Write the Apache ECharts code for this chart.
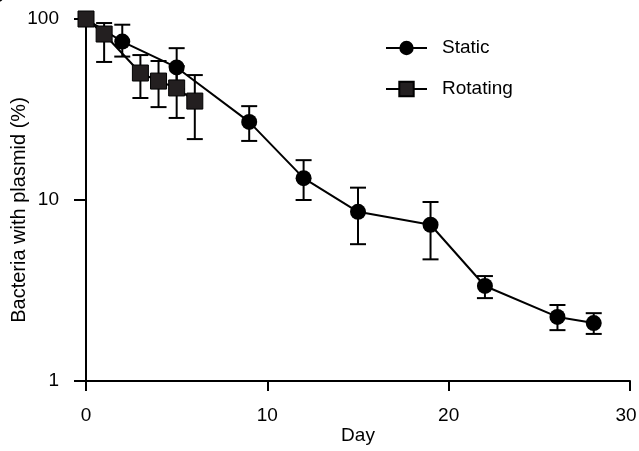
<!DOCTYPE html>
<html><head><meta charset="utf-8">
<script src="https://cdn.jsdelivr.net/npm/echarts@6/dist/echarts.min.js"></script>
<style>html,body{margin:0;padding:0;background:#fff}#c{width:639px;height:451px}</style>
</head><body><div id="c"></div>
<script>
const staticDays = [0, 2, 5, 9, 12, 15, 19, 22, 26, 28];
const staticMean = [100, 75, 54, 27, 13.2, 8.6, 7.3, 3.35, 2.26, 2.09];
const staticLow  = [100, 62, 41, 21.2, 10, 5.7, 4.7, 2.87, 1.91, 1.82];
const staticHigh = [100, 93, 69, 33, 16.6, 11.7, 9.75, 3.8, 2.63, 2.37];
const rotDays = [0, 1, 3, 4, 5, 6];
const rotMean = [100, 82.6, 50.3, 45.4, 41.6, 35.2];
const rotLow  = [100, 57.9, 36.6, 32.6, 28.4, 21.7];
const rotHigh = [100, 95, 63.2, 58.6, 55, 49];
const xTicks = [0, 10, 20, 30];
const yTicks = [1, 10, 100];

const chart = echarts.init(document.getElementById('c'));
const font = 'Liberation Sans, Arial, sans-serif';
function errSeries(days, low, high) {
  return {
    type: 'custom', z: 1, silent: true,
    data: days.map((d, i) => [d, low[i], high[i]]),
    renderItem: function (params, api) {
      const x = api.value(0);
      const p1 = api.coord([x, api.value(1)]);
      const p2 = api.coord([x, api.value(2)]);
      const w = 8;
      const st = { stroke: '#000', lineWidth: 2 };
      return { type: 'group', children: [
        { type: 'line', shape: { x1: p1[0], y1: p1[1], x2: p2[0], y2: p2[1] }, style: st },
        { type: 'line', shape: { x1: p1[0]-w, y1: p1[1], x2: p1[0]+w, y2: p1[1] }, style: st },
        { type: 'line', shape: { x1: p2[0]-w, y1: p2[1], x2: p2[0]+w, y2: p2[1] }, style: st }
      ]};
    }
  };
}
chart.setOption({
  animation: false,
  backgroundColor: '#fff',
  textStyle: { fontFamily: font },
  grid: { left: 86, right: 9, top: 19, bottom: 70, containLabel: false, outerBoundsMode: 'none' },
  legend: {
    orient: 'vertical', left: 380, top: 33, itemGap: 21,
    itemWidth: 41, itemHeight: 18,
    textStyle: { fontSize: 19, lineHeight: 20, color: '#000', fontFamily: font, padding: [0, 0, 0, 10] },
    data: ['Static', 'Rotating']
  },
  xAxis: {
    type: 'value', min: 0, max: 30, interval: 10,
    name: 'Day', nameLocation: 'middle', nameGap: 45, nameMoveOverlap: false,
    nameTextStyle: { fontSize: 19, color: '#000', fontFamily: font },
    axisLine: { lineStyle: { color: '#000', width: 2 } },
    axisTick: { inside: false, length: 10, lineStyle: { color: '#000', width: 2 } },
    axisLabel: { fontSize: 19, color: '#000', margin: 25, fontFamily: font,
      formatter: v => !xTicks.includes(v) ? '' : (v === 30 ? '{r|30}' : String(v)),
      rich: { r: { fontSize: 19, color: '#000', fontFamily: font, padding: [0, 8, 0, 0] } } },
    splitLine: { show: false }
  },
  yAxis: {
    type: 'log', logBase: 10, min: 1, max: 100,
    name: 'Bacteria with plasmid (%)', nameLocation: 'middle', nameGap: 57, nameMoveOverlap: false,
    nameTextStyle: { fontSize: 20, color: '#000', fontFamily: font, padding: [0, 20, 0, 0] },
    axisLine: { lineStyle: { color: '#000', width: 2 } },
    axisTick: { length: 12, lineStyle: { color: '#000', width: 2 } },
    axisLabel: { fontSize: 19, color: '#000', margin: 27, fontFamily: font,
      formatter: v => yTicks.includes(v) ? String(v) : '' },
    splitLine: { show: false }
  },
  series: [
    errSeries(staticDays, staticLow, staticHigh),
    errSeries(rotDays, rotLow, rotHigh),
    {
      name: 'Static', type: 'line', z: 3,
      data: staticDays.map((d, i) => [d, staticMean[i]]),
      symbol: 'circle', symbolSize: 16,
      lineStyle: { color: '#000', width: 2 },
      itemStyle: { color: '#000' }
    },
    {
      name: 'Rotating', type: 'line', z: 4,
      data: rotDays.map((d, i) => [d, rotMean[i]]),
      symbol: 'rect', symbolSize: 16,
      lineStyle: { color: '#000', width: 2 },
      itemStyle: { color: '#231f20', borderColor: '#000', borderWidth: 1 }
    }
  ],
  graphic: [{ type: 'text', left: -9, top: -13, style: { text: 'B', fontSize: 19, fontFamily: font, fill: '#000' } }]
});
</script></body></html>
